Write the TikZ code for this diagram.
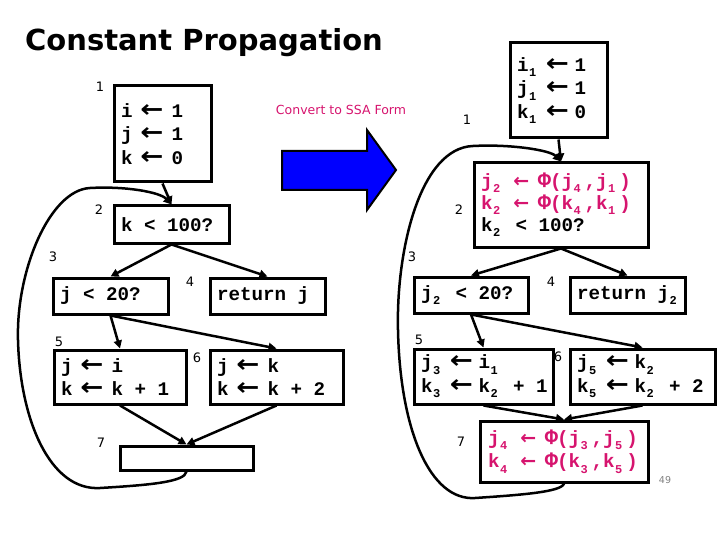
\documentclass[tikz,border=0pt]{standalone}
\usepackage{fontspec}
\usepackage{graphicx}
\setmainfont{Carlito}
\newfontfamily\monof{Liberation Mono}
\newfontfamily\labf{DejaVu Sans}
\newfontfamily\arrf{DejaVu Sans}
\usetikzlibrary{arrows.meta}
\definecolor{mag}{RGB}{214,20,110}
\definecolor{arrowblue}{RGB}{0,0,255}
% one monospace cell
\newlength\cell \setlength\cell{11.52pt}
\DeclareRobustCommand\spc{\kern\cell\relax}
\DeclareRobustCommand\ssub[1]{\makebox[\cell][l]{\kern0.5pt\raisebox{-0.28em}{\fontsize{12}{12}\selectfont #1}}}
\DeclareRobustCommand\phiop{\makebox[\cell]{\fontsize{22}{22}\selectfont\char"03A6}}
\DeclareRobustCommand\bigarrow{{\arrf\bfseries\fontsize{24}{24}\selectfont\scalebox{1.15}[1]{←}}}
\DeclareRobustCommand\smallarrow{{\arrf\bfseries\fontsize{19}{19}\selectfont ←}}
% " <- " units: space + arrow + space
\DeclareRobustCommand\larrL{\makebox[39pt]{\bigarrow}}
\DeclareRobustCommand\larrR{\makebox[3\cell]{\bigarrow}}
\DeclareRobustCommand\larrS{\makebox[3\cell]{\smallarrow}}
\DeclareRobustCommand\monostyle{\monof\bfseries\fontsize{19.2}{23.5}\selectfont}
\DeclareRobustCommand\monostyleb{\monof\bfseries\fontsize{19.2}{22}\selectfont}
\begin{document}
\begin{tikzpicture}[x=1pt,y=-1pt,
  box/.style={draw, line width=3pt, inner xsep=7pt, inner ysep=0pt, align=left,
    font=\monostyle},
  lbl/.style={font=\labf\fontsize{13}{13}\selectfont, inner sep=0pt},
  edge/.style={line width=2.5pt, -{Triangle[length=8pt,width=8pt]}},
  back/.style={line width=2.5pt, -{Triangle[length=8pt,width=8pt]}}]
\useasboundingbox (0,0) rectangle (720,540);

% title
\node[anchor=base west, inner sep=0pt, font=\labf\bfseries\fontsize{29}{29}\selectfont] (title) at (25,51) {Constant Propagation};
\node[inner sep=0pt, text=mag, font=\labf\fontsize{12.5}{12.5}\selectfont] (conv) at (341,110) {Convert to SSA Form};
\draw[fill=arrowblue, line width=2pt, line join=miter]
  (282,151) -- (367,151) -- (367,130) -- (396,170) -- (367,210) -- (367,190) -- (282,190) -- cycle;

% ---------- left CFG ----------
\node[box, minimum height=96, text width=83] (b1) at (162.5,134) {i\larrL 1\\ j\larrL 1\\ k\larrL 0};
\node[box, minimum height=37, text width=101] (b2) at (171.5,224.5) {k\spc<\spc100?};
\node[box, minimum height=36, text width=101] (b3) at (110.5,296) {j\spc<\spc20?};
\node[box, minimum height=36, text width=101] (b4) at (267.5,296) {return\spc j};
\node[box, minimum height=54, text width=118] (b5) at (120,377) {j\larrL i\\ k\larrL k\spc+\spc1};
\node[box, minimum height=54, text width=119] (b6) at (276.5,377) {j\larrL k\\ k\larrL k\spc+\spc2};
\node[box, minimum height=24, text width=119] (b7) at (186.5,458) {};

\node[lbl] (l1) at (100,87) {1};
\node[lbl] (l2) at (99,210) {2};
\node[lbl] (l3) at (53,257) {3};
\node[lbl] (l4) at (190,282) {4};
\node[lbl] (l5) at (59,342) {5};
\node[lbl] (l6) at (197,358) {6};
\node[lbl] (l7) at (101,443) {7};

\draw[edge] (b1.south) -- (b2.north);
\draw[edge] (b2.south) -- (b3.north);
\draw[edge] (b2.south) -- (b4.north);
\draw[edge] (b3.south) -- (b5.north);
\draw[edge] (b3.south) -- (b6.north);
\draw[edge] (b5.south) -- (b7.north);
\draw[edge] (b6.south) -- (b7.north);
\draw[back] (b7.south) .. controls (185,482) and (150,485) .. (100,488)
  .. controls (50,491) and (20,420) .. (18,340)
  .. controls (16,270) and (50,190) .. (90,188)
  .. controls (125,186) and (160,192) .. (b2.north);

% ---------- right CFG (SSA) ----------
\node[box, minimum height=95, text width=83] (r1) at (558.5,90.5) {i\ssub{1}\larrR 1\\ j\ssub{1}\larrR 1\\ k\ssub{1}\larrR 0};
\node[box, minimum height=84, text width=160, font=\monostyleb] (r2) at (561,205)
  {\textcolor{mag}{j\ssub{2}\larrS\phiop(j\ssub{4},j\ssub{1})}\\
   \textcolor{mag}{k\ssub{2}\larrS\phiop(k\ssub{4},k\ssub{1})}\\
   k\ssub{2}\spc<\spc100?};
\node[box, minimum height=36, text width=100] (r3) at (471,295) {j\ssub{2}\spc<\spc20?};
\node[box, minimum height=36, text width=101] (r4) at (627.5,295) {return\spc j\ssub{2}};
\node[box, minimum height=55, text width=125] (r5) at (483.5,376.5) {j\ssub{3}\larrR i\ssub{1}\\ k\ssub{3}\larrR k\ssub{2}\spc+\spc1};
\node[box, minimum height=55, text width=131] (r6) at (642.5,376.5) {j\ssub{5}\larrR k\ssub{2}\\ k\ssub{5}\larrR k\ssub{2}\spc+\spc2};
\node[box, minimum height=61, text width=152, inner xsep=8pt, text=mag] (r7) at (564,451.5)
  {j\ssub{4}\larrS\phiop(j\ssub{3},j\ssub{5})\\ k\ssub{4}\larrS\phiop(k\ssub{3},k\ssub{5})};

\node[lbl] (m1) at (467,120) {1};
\node[lbl] (m2) at (459,210) {2};
\node[lbl] (m3) at (412,257) {3};
\node[lbl] (m4) at (551,282) {4};
\node[lbl] (m5) at (419,340) {5};
\node[lbl] (m6) at (558,357) {6};
\node[lbl] (m7) at (461,442) {7};
\node[inner sep=0pt, text=gray, font=\labf\fontsize{9.5}{9.5}\selectfont] (pg) at (665,480) {49};

\draw[edge] (r1.south) -- (r2.north);
\draw[edge] (r2.south) -- (r3.north);
\draw[edge] (r2.south) -- (r4.north);
\draw[edge] (r3.south) -- (r5.north);
\draw[edge] (r3.south) -- (r6.north);
\draw[edge] (r5.south) -- (r7.north);
\draw[edge] (r6.south) -- (r7.north);
\draw[back] (r7.south) .. controls (562,492) and (520,495) .. (475,498)
  .. controls (430,501) and (400,430) .. (398,330)
  .. controls (396,250) and (420,148) .. (473,146)
  .. controls (510,144) and (550,150) .. (r2.north);
\end{tikzpicture}
\end{document}
